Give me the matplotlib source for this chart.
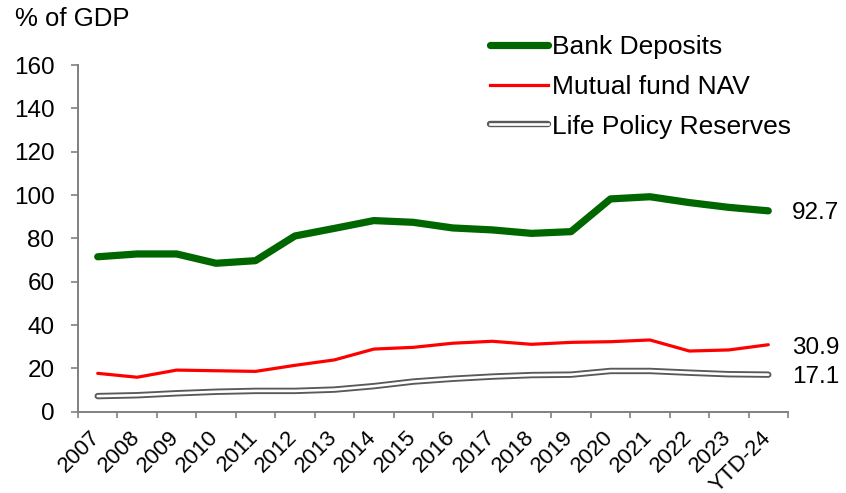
import matplotlib
matplotlib.use('Agg')
import matplotlib.pyplot as plt
from matplotlib.lines import Line2D
from matplotlib.legend_handler import HandlerTuple
from matplotlib.transforms import ScaledTranslation

plt.rcParams.update({'font.family': ['Liberation Sans', 'DejaVu Sans']})

years = ['2007', '2008', '2009', '2010', '2011', '2012', '2013', '2014', '2015',
         '2016', '2017', '2018', '2019', '2020', '2021', '2022', '2023', 'YTD-24']
bank_deposits = [71.5, 72.8, 72.8, 68.5, 69.7, 81.1, 84.6, 88.2, 87.4,
                 84.8, 83.9, 82.3, 83.1, 98.2, 99.2, 96.5, 94.3, 92.7]
mutual_fund = [17.7, 15.9, 19.2, 18.9, 18.6, 21.4, 23.9, 28.9, 29.7,
               31.6, 32.5, 31.1, 32.0, 32.3, 33.1, 28.0, 28.5, 30.9]
life_reserves = [7.2, 7.6, 8.5, 9.2, 9.6, 9.6, 10.2, 11.8, 13.9,
                 15.2, 16.2, 16.9, 17.1, 18.8, 18.8, 18.0, 17.3, 17.1]

GREEN = '#006600'
RED = '#FF0000'
GREY = '#595959'
AX = '#808080'

fig = plt.figure(figsize=(8.46, 4.93), dpi=100)
ax = fig.add_axes([78/846, 1-411.7/493, 710/846, (411.7-65)/493])

x = list(range(len(years)))
ax.plot(x, bank_deposits, color=GREEN, lw=5.2, solid_capstyle='round', zorder=3)
ax.plot(x, mutual_fund, color=RED, lw=2.3, solid_capstyle='round', zorder=3)
# double line: grey outline with white core
ax.plot(x, life_reserves, color=GREY, lw=4.6, solid_capstyle='round', zorder=2)
ax.plot(x, life_reserves, color='white', lw=1.9, solid_capstyle='round', zorder=2.5)

# end labels
for vals, dy in [(bank_deposits, -2), (mutual_fund, -3), (life_reserves, -2)]:
    ax.annotate(f'{vals[-1]:.1f}', xy=(x[-1], vals[-1]), xytext=(24, dy),
                textcoords='offset pixels', ha='left', va='center',
                fontsize=17.5, color='black', annotation_clip=False)

ax.set_xlim(-0.5, len(years) - 0.5)
ax.set_ylim(0, 160)
ax.set_yticks(range(0, 161, 20))
ax.set_xticks(x)
ax.set_xticklabels(years, rotation=45, ha='right', va='top', rotation_mode='anchor')
ax.set_xticks([i - 0.5 for i in range(len(years) + 1)], minor=True)
ax.tick_params(axis='x', which='major', length=0, pad=11, labelsize=16)
ax.tick_params(axis='x', which='minor', length=4, width=1.2, color=AX)
ax.tick_params(axis='y', length=5, width=1.2, color=AX, pad=12, labelsize=17.5)
shift = ScaledTranslation(-8/100, 0, fig.dpi_scale_trans)
for lab in ax.get_xticklabels():
    lab.set_transform(lab.get_transform() + shift)

for s in ['top', 'right']:
    ax.spines[s].set_visible(False)
for s in ['left', 'bottom']:
    ax.spines[s].set_color(AX)
    ax.spines[s].set_linewidth(1.4)

fig.text(15/846, 1-19/493, '% of GDP', fontsize=18.5, ha='left', va='center')

h_bank = Line2D([], [], color=GREEN, lw=5.2, solid_capstyle='round')
h_mf = Line2D([], [], color=RED, lw=2.3)
h_life = (Line2D([], [], color=GREY, lw=4.6, solid_capstyle='round'),
          Line2D([], [], color='white', lw=1.9))
ax.legend([h_bank, h_mf, h_life], ['Bank Deposits', 'Mutual fund NAV', 'Life Policy Reserves'],
          handler_map={tuple: HandlerTuple(ndivide=1)},
          loc='upper left', bbox_to_anchor=(490/846, 1-35/493), bbox_transform=fig.transFigure,
          frameon=False, fontsize=19, handlelength=2.2, handletextpad=0.15,
          labelspacing=0.6, borderpad=0, borderaxespad=0)

fig.savefig('out.png', dpi=100)
